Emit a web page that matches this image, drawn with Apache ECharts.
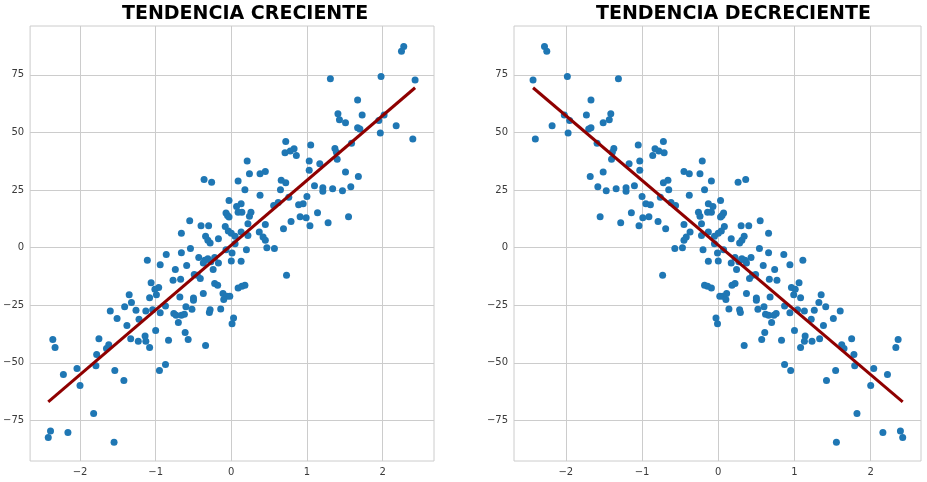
<!DOCTYPE html>
<html>
<head>
<meta charset="utf-8">
<script src="https://cdn.jsdelivr.net/npm/echarts@6/dist/echarts.min.js"></script>
<style>
html,body{margin:0;padding:0;background:#fff;}
#chart{width:927px;height:482px;}
</style>
</head>
<body>
<div id="chart"></div>
<script>
// Titles
const titleInc = 'TENDENCIA CRECIENTE';
const titleDec = 'TENDENCIA DECRECIENTE';

// Tick values
const xTicks = [-2, -1, 0, 1, 2];
const yTicks = [-75, -50, -25, 0, 25, 50, 75];

// Left panel (increasing trend) scatter points
const xInc = [0.72,0.71,0.78,0.83,0.86,0.21,0.45,2.28,2.25,1.31,1.98,2.43,1.67,1.41,1.43,1.51,1.73,2.02,1.95,1.67,2.18,1.97,2.40,1.05,1.37,1.39,1.40,1.59,1.03,1.17,1.03,1.51,1.68,1.10,1.21,1.21,1.34,1.47,1.58,1.00,0.89,0.95,0.79,0.91,0.99,1.04,1.14,1.28,1.55,1.70,
0.24,0.38,-0.36,-0.26,0.09,0.18,0.38,0.66,0.72,0.65,0.76,0.56,0.62,0.69,-0.03,0.13,0.07,0.09,0.14,-0.07,-0.05,-0.03,0.26,0.24,0.22,0.45,-0.55,-0.40,-0.30,-0.08,-0.66,-0.34,-0.31,-0.28,-0.17,-0.04,0.00,0.05,0.13,0.22,0.37,0.42,0.45,0.47,0.57,0.20,0.05,-0.07,0.01,0.00,0.13,-0.54,-0.66,-0.86,-0.94,-0.74,-0.59,-0.43,-0.35,-0.31,-0.37,-0.22,-0.27,-0.17,-0.24,-0.77,-0.67,-0.49,-0.41,-0.45,-0.37,-0.50,-0.68,-0.22,-0.18,-0.11,-0.06,-0.02,-0.10,0.09,0.14,0.18,0.73,-0.60,-0.52,-0.28,-0.14,
-1.11,-1.06,-1.01,-0.96,-0.99,-1.08,-1.35,-1.32,-1.41,-1.60,-1.26,-1.13,-1.04,-0.87,
-1.51,-1.38,-1.22,-0.94,-1.33,-1.23,-1.14,-1.13,-1.08,-1.00,-0.83,-2.36,-2.33,-1.75,-1.62,-1.65,-1.78,-1.79,-2.04,-2.22,-2.00,-1.54,-1.42,-0.95,-0.87,-1.82,-2.39,-2.42,-2.16,-1.55,
-0.76,-0.73,-0.66,-0.62,-0.70,-0.50,-0.29,0.03,0.01,-0.61,-0.57,-0.34];
const yInc = [46.1,41.2,41.9,42.9,40.0,37.6,33.0,87.3,85.2,73.3,74.3,72.8,64.1,58.1,55.5,54.2,57.6,57.6,55.2,52.0,52.9,49.8,47.2,44.6,43.0,41.4,38.4,45.3,37.6,36.4,33.6,32.8,30.9,26.9,26.0,24.5,25.6,24.7,26.4,22.2,18.6,19.1,11.4,13.4,13.0,9.5,15.2,10.8,13.4,51.5,
32.1,32.1,29.6,28.4,28.9,25.1,22.7,29.2,28.2,25.1,21.9,18.3,19.6,8.2,20.5,19.1,17.9,15.4,15.4,15.0,14.0,13.3,15.4,13.6,10.4,10.0,11.7,9.5,9.5,9.2,6.2,4.9,3.2,2.0,3.9,7.2,6.3,4.9,6.8,5.3,6.8,4.6,3.2,0.0,-0.4,-0.9,1.7,-0.9,-2.3,-5.8,-5.9,-0.4,-2.2,-3.0,-7.4,-9.5,-7.8,-4.3,-5.5,-4.8,-6.7,-4.3,-6.1,-6.7,-9.5,-14.2,-13.7,-11.7,-13.4,-12.0,-19.9,-21.8,-21.4,-15.6,-16.3,-19.9,-21.1,-21.1,-22.5,-17.5,-16.8,-16.3,-12.0,-25.7,-26.7,-26.9,-26.6,
-5.5,-15.2,-18.1,-17.3,-20.4,-21.7,-20.4,-23.8,-25.6,-27.5,-27.2,-27.5,-26.9,-25.3,
-30.8,-33.8,-31.1,-28.3,-39.5,-40.6,-38.4,-40.6,-43.3,-36.0,-40.2,-39.9,-43.3,-39.5,-42.1,-43.8,-46.4,-51.3,-52.5,-55.1,-59.8,-53.3,-57.7,-53.3,-50.7,-72.0,-79.6,-82.4,-80.2,-84.5,
-28.6,-29.3,-29.3,-28.9,-32.5,-22.8,-28.2,-30.5,-33.0,-36.8,-39.9,-42.5];

// Right panel (decreasing trend) scatter points
const xDec = [-0.72,-0.71,-0.78,-0.83,-0.86,-0.21,-0.45,-2.28,-2.25,-1.31,-1.98,-2.43,-1.67,-1.41,-1.43,-1.51,-1.73,-2.02,-1.95,-1.67,-2.18,-1.97,-2.40,-1.05,-1.37,-1.39,-1.40,-1.59,-1.03,-1.17,-1.03,-1.51,-1.68,-1.10,-1.21,-1.21,-1.34,-1.47,-1.58,-1.00,-0.89,-0.95,-0.79,-0.91,-0.99,-1.04,-1.14,-1.28,-1.55,-1.70,
-0.24,-0.38,0.36,0.26,-0.09,-0.18,-0.38,-0.66,-0.72,-0.65,-0.76,-0.56,-0.62,-0.69,0.03,-0.13,-0.07,-0.09,-0.14,0.07,0.05,0.03,-0.26,-0.24,-0.22,-0.45,0.55,0.40,0.30,0.08,0.66,0.34,0.31,0.28,0.17,0.04,0.00,-0.05,-0.13,-0.22,-0.37,-0.42,-0.45,-0.47,-0.57,-0.20,-0.05,0.07,-0.01,0.00,-0.13,0.54,0.66,0.86,0.94,0.74,0.59,0.43,0.35,0.31,0.37,0.22,0.27,0.17,0.24,0.77,0.67,0.49,0.41,0.45,0.37,0.50,0.68,0.22,0.18,0.11,0.06,0.02,0.10,-0.09,-0.14,-0.18,-0.73,0.60,0.52,0.28,0.14,
1.11,1.06,1.01,0.96,0.99,1.08,1.35,1.32,1.41,1.60,1.26,1.13,1.04,0.87,
1.51,1.38,1.22,0.94,1.33,1.23,1.14,1.13,1.08,1.00,0.83,2.36,2.33,1.75,1.62,1.65,1.78,1.79,2.04,2.22,2.00,1.54,1.42,0.95,0.87,1.82,2.39,2.42,2.16,1.55,
0.76,0.73,0.66,0.62,0.70,0.50,0.29,-0.03,-0.01,0.61,0.57,0.34];
const yDec = [46.1,41.2,41.9,42.9,40.0,37.6,33.0,87.3,85.2,73.3,74.3,72.8,64.1,58.1,55.5,54.2,57.6,57.6,55.2,52.0,52.9,49.8,47.2,44.6,43.0,41.4,38.4,45.3,37.6,36.4,33.6,32.8,30.9,26.9,26.0,24.5,25.6,24.7,26.4,22.2,18.6,19.1,11.4,13.4,13.0,9.5,15.2,10.8,13.4,51.5,
32.1,32.1,29.6,28.4,28.9,25.1,22.7,29.2,28.2,25.1,21.9,18.3,19.6,8.2,20.5,19.1,17.9,15.4,15.4,15.0,14.0,13.3,15.4,13.6,10.4,10.0,11.7,9.5,9.5,9.2,6.2,4.9,3.2,2.0,3.9,7.2,6.3,4.9,6.8,5.3,6.8,4.6,3.2,0.0,-0.4,-0.9,1.7,-0.9,-2.3,-5.8,-5.9,-0.4,-2.2,-3.0,-7.4,-9.5,-7.8,-4.3,-5.5,-4.8,-6.7,-4.3,-6.1,-6.7,-9.5,-14.2,-13.7,-11.7,-13.4,-12.0,-19.9,-21.8,-21.4,-15.6,-16.3,-19.9,-21.1,-21.1,-22.5,-17.5,-16.8,-16.3,-12.0,-25.7,-26.7,-26.9,-26.6,
-5.5,-15.2,-18.1,-17.3,-20.4,-21.7,-20.4,-23.8,-25.6,-27.5,-27.2,-27.5,-26.9,-25.3,
-30.8,-33.8,-31.1,-28.3,-39.5,-40.6,-38.4,-40.6,-43.3,-36.0,-40.2,-39.9,-43.3,-39.5,-42.1,-43.8,-46.4,-51.3,-52.5,-55.1,-59.8,-53.3,-57.7,-53.3,-50.7,-72.0,-79.6,-82.4,-80.2,-84.5,
-28.6,-29.3,-29.3,-28.9,-32.5,-22.8,-28.2,-30.5,-33.0,-36.8,-39.9,-42.5];

// Fitted trend lines (endpoints)
const lineIncX = [-2.42, 2.43];
const lineIncY = [-66.9, 69.4];
const lineDecX = [-2.43, 2.42];
const lineDecY = [69.4, -66.9];

const zip = (a, b) => a.map((v, i) => [v, b[i]]);
const fmt = v => String(v).replace('-', '\u2212');

const gridColor = '#cccccc';
const labelStyle = { color: '#3a3a3a', fontSize: 10, fontFamily: 'DejaVu Sans' };

function xAxisCfg(gi, min, max) {
  return {
    type: 'value', gridIndex: gi, min: min, max: max,
    axisLine: { show: false },
    axisTick: { show: false, customValues: xTicks },
    axisLabel: Object.assign({ customValues: xTicks, formatter: fmt, margin: 6 }, labelStyle),
    splitLine: { show: true, customValues: xTicks, lineStyle: { color: gridColor, width: 1 } }
  };
}
function yAxisCfg(gi) {
  return {
    type: 'value', gridIndex: gi, min: -92.6, max: 96.2,
    axisLine: { show: false },
    axisTick: { show: false, customValues: yTicks },
    axisLabel: Object.assign({ customValues: yTicks, formatter: fmt, margin: 6 }, labelStyle),
    splitLine: { show: true, customValues: yTicks, lineStyle: { color: gridColor, width: 1 } }
  };
}

const titleFont = 'bold 19px "DejaVu Sans"';

const chart = echarts.init(document.getElementById('chart'), null, { renderer: 'canvas' });
chart.setOption({
  animation: false,
  backgroundColor: '#ffffff',
  graphic: [
    { type: 'text', x: 122, y: 14, z: 10,
      style: { text: titleInc, font: titleFont, fill: '#000', align: 'left', verticalAlign: 'middle' } },
    { type: 'text', x: 596, y: 14, z: 10,
      style: { text: titleDec, font: titleFont, fill: '#000', align: 'left', verticalAlign: 'middle' } }
  ],
  grid: [
    { left: 28, top: 26, width: 406, height: 435, show: true, borderColor: gridColor, borderWidth: 1, backgroundColor: 'transparent' },
    { left: 514, top: 26, width: 407, height: 435, show: true, borderColor: gridColor, borderWidth: 1, backgroundColor: 'transparent' }
  ],
  xAxis: [xAxisCfg(0, -2.66, 2.68), xAxisCfg(1, -2.68, 2.66)],
  yAxis: [yAxisCfg(0), yAxisCfg(1)],
  series: [
    { type: 'scatter', xAxisIndex: 0, yAxisIndex: 0, data: zip(xInc, yInc), symbolSize: 7,
      itemStyle: { color: '#1f77b4', opacity: 1 } },
    { type: 'scatter', xAxisIndex: 1, yAxisIndex: 1, data: zip(xDec, yDec), symbolSize: 7,
      itemStyle: { color: '#1f77b4', opacity: 1 } },
    { type: 'line', xAxisIndex: 0, yAxisIndex: 0, data: zip(lineIncX, lineIncY), symbol: 'none', z: 5,
      lineStyle: { color: '#8f0000', width: 3 } },
    { type: 'line', xAxisIndex: 1, yAxisIndex: 1, data: zip(lineDecX, lineDecY), symbol: 'none', z: 5,
      lineStyle: { color: '#8f0000', width: 3 } }
  ]
});
</script>
</body>
</html>
